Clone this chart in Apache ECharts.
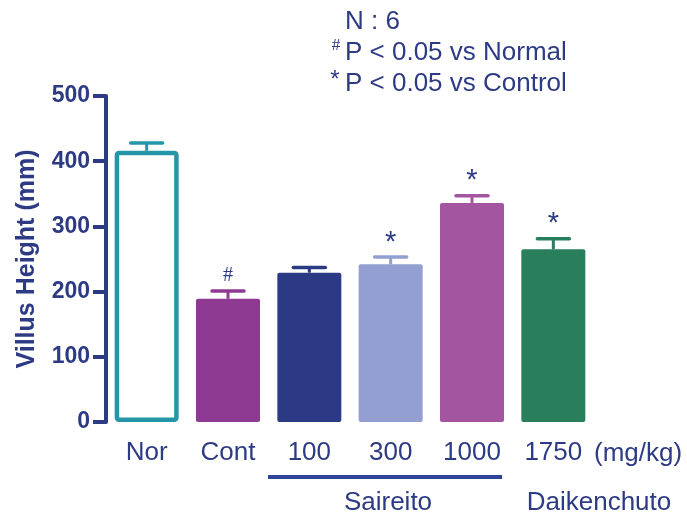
<!DOCTYPE html>
<html>
<head>
<meta charset="utf-8">
<script src="https://cdn.jsdelivr.net/npm/echarts@6/dist/echarts.min.js"></script>
<style>
  html, body { margin: 0; padding: 0; background: #fff; }
  #main { width: 687px; height: 518px; }
</style>
</head>
<body>
<div id="main"></div>
<script>
// villus height per group
var categories = ['Nor', 'Cont', '100', '300', '1000', '1750'];
var means = [416, 189, 229, 242, 336, 265];
var sem = [12, 12, 8, 11, 11, 16];
var marks = ['', '#', '', '*', '*', '*'];
var colors = ['#2596a8', '#8e3a92', '#2c3985', '#939fd0', '#a3559f', '#297e5b'];
var yTicks = [0, 100, 200, 300, 400, 500];

var font = 'Liberation Sans, Arial, sans-serif';
var ink = '#2d3a84';

var myChart = echarts.init(document.getElementById('main'));

var barData = means.map(function (v, i) {
  if (i === 0) {
    return { value: v, itemStyle: { color: '#fff', borderColor: colors[0], borderWidth: 4.5, borderRadius: 2 } };
  }
  return { value: v, itemStyle: { color: colors[i], borderRadius: 2 } };
});

var errData = means.map(function (v, i) { return [i, v, v + sem[i]]; });

var option = {
  animation: false,
  backgroundColor: '#fff',
  grid: { left: 106, right: 93, top: 96, bottom: 96, containLabel: false, outerBoundsMode: 'none' },
  xAxis: {
    type: 'category',
    data: categories,
    axisLine: { show: false },
    axisTick: { show: false },
    axisLabel: { color: ink, fontSize: 26, fontFamily: font, margin: 18 }
  },
  yAxis: {
    type: 'value',
    min: yTicks[0],
    max: yTicks[yTicks.length - 1],
    interval: 100,
    name: 'Villus Height (mm)',
    nameLocation: 'middle',
    nameGap: 66,
    nameTextStyle: { color: ink, fontSize: 25, fontWeight: 'bold', fontFamily: font },
    axisLine: { show: true, lineStyle: { color: ink, width: 4 } },
    axisTick: { show: true, length: 13, lineStyle: { color: ink, width: 4 } },
    axisLabel: { color: ink, fontSize: 23, fontWeight: 'bold', fontFamily: font, margin: 16 },
    splitLine: { show: false }
  },
  series: [
    {
      type: 'bar',
      data: barData,
      barWidth: 64,
      z: 2
    },
    {
      type: 'custom',
      data: errData,
      z: 3,
      renderItem: function (params, api) {
        var i = api.value(0);
        var base = api.coord([i, api.value(1)]);
        var top = api.coord([i, api.value(2)]);
        var c = colors[i];
        var kids = [
          { type: 'line', shape: { x1: base[0], y1: base[1], x2: top[0], y2: top[1] }, style: { stroke: c, lineWidth: 3 } },
          { type: 'line', shape: { x1: top[0] - 16, y1: top[1], x2: top[0] + 16, y2: top[1] }, style: { stroke: c, lineWidth: 3.5, lineCap: 'round' } }
        ];
        if (marks[i]) {
          var star = marks[i] === '*';
          kids.push({
            type: 'text',
            style: {
              text: marks[i], x: top[0], y: top[1] - (star ? 0 : 5),
              align: 'center', verticalAlign: 'bottom',
              fill: ink, fontSize: star ? 29 : 20,
              fontFamily: star ? font : 'Liberation Serif, serif'
            }
          });
        }
        return { type: 'group', children: kids };
      }
    }
  ],
  graphic: [
    { type: 'text', left: 594, top: 441, style: { text: '(mg/kg)', fill: ink, fontSize: 26, fontFamily: font } },
    { type: 'line', shape: { x1: 268, y1: 477, x2: 502, y2: 477 }, style: { stroke: '#2e449a', lineWidth: 4 } },
    { type: 'text', x: 388, y: 503, style: { text: 'Saireito', fill: ink, fontSize: 26, fontFamily: font, align: 'center', verticalAlign: 'middle' } },
    { type: 'text', x: 599, y: 503, style: { text: 'Daikenchuto', fill: ink, fontSize: 26, fontFamily: font, align: 'center', verticalAlign: 'middle' } },
    { type: 'text', x: 345, y: 22, style: { text: 'N : 6', fill: ink, fontSize: 26, fontFamily: font, verticalAlign: 'middle' } },
    { type: 'text', x: 345, y: 53, style: { text: 'P < 0.05 vs Normal', fill: ink, fontSize: 26, fontFamily: font, verticalAlign: 'middle' } },
    { type: 'text', x: 345, y: 84, style: { text: 'P < 0.05 vs Control', fill: ink, fontSize: 26, fontFamily: font, verticalAlign: 'middle' } },
    { type: 'text', x: 336, y: 46, style: { text: '#', fill: ink, fontSize: 17, fontFamily: 'Liberation Serif, serif', align: 'center', verticalAlign: 'middle' } },
    { type: 'text', x: 335, y: 80, style: { text: '*', fill: ink, fontSize: 24, fontFamily: font, align: 'center', verticalAlign: 'middle' } }
  ]
};

myChart.setOption(option);
</script>
</body>
</html>
